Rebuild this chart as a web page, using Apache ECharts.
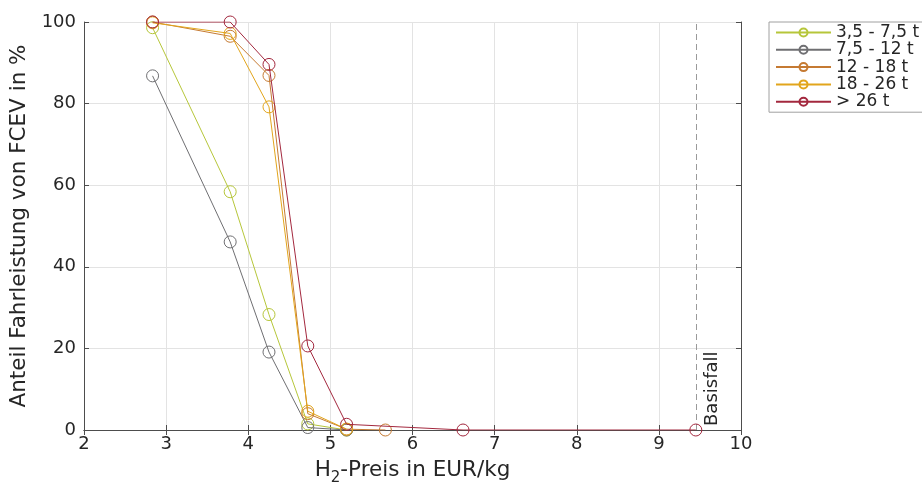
<!DOCTYPE html>
<html><head><meta charset="utf-8">
<script src="https://cdn.jsdelivr.net/npm/echarts@6/dist/echarts.min.js"></script>
<style>html,body{margin:0;padding:0;background:#fff}#c{width:922px;height:497px}</style>
</head><body><div id="c"></div>
<script>
const seriesNames = ['3,5 - 7,5 t', '7,5 - 12 t', '12 - 18 t', '18 - 26 t', '> 26 t'];
const x1 = [2.835, 3.78, 4.2525, 4.725, 5.1975];
const y1 = [98.6, 58.4, 28.3, 1.5, 0];
const x2 = [2.835, 3.78, 4.2525, 4.725, 5.1975];
const y2 = [86.8, 46.1, 19.1, 0.6, 0];
const x3 = [2.835, 3.78, 4.2525, 4.725, 5.1975, 5.67];
const y3 = [100, 96.5, 86.9, 4.0, 0.2, 0];
const x4 = [2.835, 3.78, 4.2525, 4.725, 5.1975];
const y4 = [99.8, 97.2, 79.2, 4.6, 0.2];
const x5 = [2.835, 3.78, 4.2525, 4.725, 5.1975, 6.615, 9.45];
const y5 = [100, 100, 89.6, 20.6, 1.4, 0, 0];
const basisfallX = 9.45;
const xTicks = [2, 3, 4, 5, 6, 7, 8, 9, 10];
const yTicks = [0, 20, 40, 60, 80, 100];

const colors = ['#b6c63a', '#6f6f72', '#c57a32', '#e2a51c', '#a3283e'];
const xs = [x1, x2, x3, x4, x5];
const ys = [y1, y2, y3, y4, y5];
const font = 'DejaVu Sans';
const txt = '#262626';

const series = seriesNames.map((n, i) => ({
  name: n, type: 'line', xAxisIndex: 0, yAxisIndex: 0,
  data: xs[i].map((x, j) => [x, ys[i][j]]),
  symbol: 'circle', symbolSize: 12,
  lineStyle: { color: colors[i], width: 1 },
  itemStyle: { color: 'rgba(255,255,255,0)', borderColor: colors[i], borderWidth: 1 },
  emphasis: { disabled: true }, animation: false, z: 2 + i
}));
series.push({
  type: 'line', data: [], xAxisIndex: 0, yAxisIndex: 0, animation: false,
  markLine: {
    silent: true, symbol: 'none', animation: false,
    lineStyle: { color: '#9a9a9a', type: [6, 4], width: 1 },
    label: { show: true, formatter: 'Basisfall', position: 'insideStartBottom', fontFamily: font, fontSize: 18, color: txt, distance: [4, 7] },
    data: [{ xAxis: basisfallX }]
  }
});

const chart = echarts.init(document.getElementById('c'), null, { renderer: 'canvas' });
chart.setOption({
  backgroundColor: '#fff',
  animation: false,
  grid: { left: 84, right: 181, top: 22, bottom: 67 },
  legend: {
    data: seriesNames, orient: 'vertical', left: 769, top: 22,
    backgroundColor: '#fff', borderColor: '#a0a0a0', borderWidth: 1,
    padding: [2, 40, 2, 6], itemWidth: 55, itemHeight: 10, itemGap: 0.3,
    textStyle: { fontFamily: font, fontSize: 17, color: txt, lineHeight: 15 },
    selectedMode: false
  },
  xAxis: [{
    type: 'value', min: xTicks[0], max: xTicks[xTicks.length - 1], interval: 1,
    axisLine: { lineStyle: { color: '#4d4d4d' } },
    axisTick: { inside: true, length: 5, lineStyle: { color: '#4d4d4d' } },
    axisLabel: { fontFamily: font, fontSize: 18, color: txt, margin: 5 },
    splitLine: { show: true, lineStyle: { color: '#e3e3e3' } },
    name: '{a|H}{s|2}{a|-Preis in EUR/kg}', nameLocation: 'middle', nameGap: 25,
    nameTextStyle: { rich: { a: { fontFamily: font, fontSize: 21.5, color: txt }, s: { fontFamily: font, fontSize: 15, color: txt, padding: [16, 0, 0, 0] } } }
  }, {
    type: 'value', position: 'top', min: xTicks[0], max: xTicks[xTicks.length - 1], interval: 1,
    axisLine: { lineStyle: { color: '#4d4d4d' } },
    axisTick: { inside: true, length: 5, lineStyle: { color: '#4d4d4d' } },
    axisLabel: { show: false }, splitLine: { show: false }
  }],
  yAxis: [{
    type: 'value', min: yTicks[0], max: yTicks[yTicks.length - 1], interval: 20,
    axisLine: { show: true, lineStyle: { color: '#4d4d4d' } },
    axisTick: { show: true, inside: true, length: 5, lineStyle: { color: '#4d4d4d' } },
    axisLabel: { fontFamily: font, fontSize: 18, color: txt, margin: 8 },
    splitLine: { show: true, lineStyle: { color: '#e3e3e3' } },
    name: 'Anteil Fahrleistung von FCEV in %', nameLocation: 'middle', nameGap: 51,
    nameTextStyle: { fontFamily: font, fontSize: 21.5, color: txt }
  }, {
    type: 'value', position: 'right', min: yTicks[0], max: yTicks[yTicks.length - 1], interval: 20,
    axisLine: { show: true, lineStyle: { color: '#4d4d4d' } },
    axisTick: { show: true, inside: true, length: 5, lineStyle: { color: '#4d4d4d' } },
    axisLabel: { show: false }, splitLine: { show: false }
  }],
  series: series
});
</script>
</body></html>
